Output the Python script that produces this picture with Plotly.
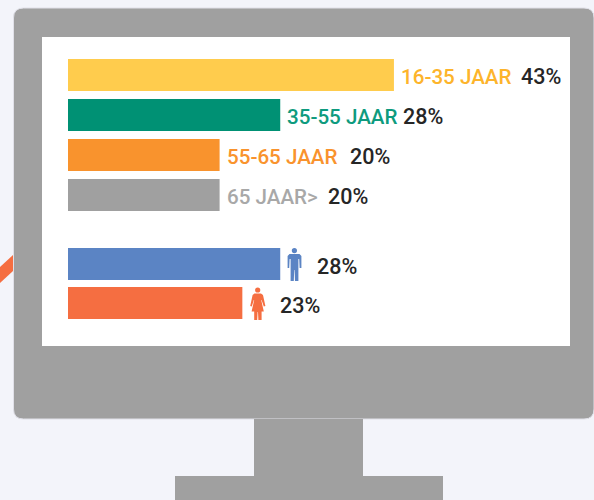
import plotly.graph_objects as go

age_groups = ["16-35 JAAR", "35-55 JAAR", "55-65 JAAR", "65 JAAR>"]
age_values = [43, 28, 20, 20]
age_bar_colors = ["#FFCC4D", "#009174", "#F9932D", "#A0A0A0"]
age_text_colors = ["#FDB42B", "#0E9B7E", "#F9932D", "#A8A8A8"]
age_pct_offsets = [127, 123, 130, 108]

gender_groups = ["Man", "Vrouw"]
gender_values = [28, 23]
gender_colors = ["#5B84C4", "#F56E41"]
gender_pct_offsets = [37, 38]

W, H = 594, 500
X0 = 68
PX = 7.58
GRAY = "#A0A0A0"
FONT = "Roboto"
DARK = "#262626"


def fx(v):
    return v / W


def fy(v):
    return 1 - v / H


def path(points):
    return "M" + " L".join(f"{fx(x):.5f},{fy(y):.5f}" for x, y in points) + " Z"


def circle(cx, cy, r, color):
    return dict(type="circle", xref="paper", yref="paper", x0=fx(cx - r), x1=fx(cx + r),
                y0=fy(cy + r), y1=fy(cy - r), fillcolor=color, line_width=0, layer="above")


def poly(points, color, layer="below", line=None):
    return dict(type="path", xref="paper", yref="paper", path=path(points), fillcolor=color,
                line=dict(width=1, color=line) if line else dict(width=0), layer=layer)


def monitor(left, top, right, bottom, r):
    return (f"M{fx(left)},{fy(top + r)} Q{fx(left)},{fy(top)} {fx(left + r)},{fy(top)} "
            f"L{fx(right - r)},{fy(top)} Q{fx(right)},{fy(top)} {fx(right)},{fy(top + r)} "
            f"L{fx(right)},{fy(bottom - r)} Q{fx(right)},{fy(bottom)} {fx(right - r)},{fy(bottom)} "
            f"L{fx(left + r)},{fy(bottom)} Q{fx(left)},{fy(bottom)} {fx(left)},{fy(bottom - r)} Z")


fig = go.Figure()
fig.add_trace(go.Bar(y=age_groups, x=age_values, orientation="h", width=0.8,
                     marker=dict(color=age_bar_colors, line_width=0), xaxis="x", yaxis="y",
                     hoverinfo="skip"))
fig.add_trace(go.Bar(y=gender_groups, x=gender_values, orientation="h", width=0.82,
                     marker=dict(color=gender_colors, line_width=0), xaxis="x", yaxis="y2",
                     hoverinfo="skip"))

shapes = [
    poly([(0, 267), (13, 255), (13, 271), (0, 283)], gender_colors[1]),
    dict(type="path", xref="paper", yref="paper", path=monitor(13.5, 8, 594, 419, 10), fillcolor=GRAY,
         line=dict(width=1, color="#E0E0E8"), layer="below"),
    poly([(42, 37), (570, 37), (570, 346), (42, 346)], "#FFFFFF"),
    poly([(254, 419), (363, 419), (363, 476), (254, 476)], GRAY),
    poly([(175, 476), (443, 476), (443, 500), (175, 500)], GRAY),
    # man icon
    circle(294.4, 250.6, 2.6, gender_colors[0]),
    poly([(289.5, 254), (299.5, 254), (301.4, 256), (301.4, 268), (299.6, 268), (299.2, 259),
          (298.4, 259), (298.4, 281), (295, 281), (294.6, 270), (294.2, 270), (293.8, 281),
          (290.6, 281), (290.6, 259), (289.6, 259), (289.2, 268), (287.6, 268), (287.6, 256)],
         gender_colors[0], "above"),
    # woman icon
    circle(257.7, 290, 2.6, gender_colors[1]),
    poly([(254.5, 293.4), (261, 293.4), (263, 295), (265.4, 306), (263.8, 306.6), (261.6, 300),
          (261.2, 300), (263.8, 311.6), (261.6, 311.6), (261.6, 320), (258.4, 320), (258, 312),
          (257.6, 312), (257.2, 320), (254.2, 320), (254.2, 311.6), (251.6, 311.6), (254.2, 300),
          (253.8, 300), (251.8, 306.6), (250.2, 306), (252.6, 295)],
         gender_colors[1], "above"),
]

annotations = []


def label(yaxis, cat, value, text, color, dx, size, dy):
    annotations.append(dict(xref="x", yref=yaxis, x=value, y=cat, text=text, showarrow=False,
                            xanchor="left", yanchor="middle", xshift=dx, yshift=dy, align="left",
                            font=dict(family=FONT, size=size, color=color, weight=500),
                            borderpad=0, borderwidth=0))


for cat, val, col, off in zip(age_groups, age_values, age_text_colors, age_pct_offsets):
    label("y", cat, val, cat, col, 7, 20.6, -1.5)
    label("y", cat, val, f"{val}%", DARK, off, 21.5, -1.5)
for cat, val, off in zip(gender_groups, gender_values, gender_pct_offsets):
    label("y2", cat, val, f"{val}%", DARK, off, 21.5, -2)

fig.update_layout(
    width=W, height=H, margin=dict(l=0, r=0, t=0, b=0), autosize=False,
    paper_bgcolor="#F3F4FA", plot_bgcolor="rgba(0,0,0,0)", showlegend=False,
    xaxis=dict(range=[-X0 / PX, (W - X0) / PX], domain=[0, 1], visible=False, fixedrange=True),
    yaxis=dict(domain=[1 - 215 / H, 1 - 55 / H], type="category", categoryorder="array",
               categoryarray=age_groups[::-1], visible=False, fixedrange=True),
    yaxis2=dict(domain=[1 - 322.5 / H, 1 - 244.5 / H], type="category", categoryorder="array",
                categoryarray=gender_groups[::-1], visible=False, fixedrange=True, anchor="x"),
    shapes=shapes, annotations=annotations, hovermode=False,
)

fig.write_html("out.html", config={"displayModeBar": False},
               post_script="document.body.style.margin='0';document.body.style.overflow='hidden';")
